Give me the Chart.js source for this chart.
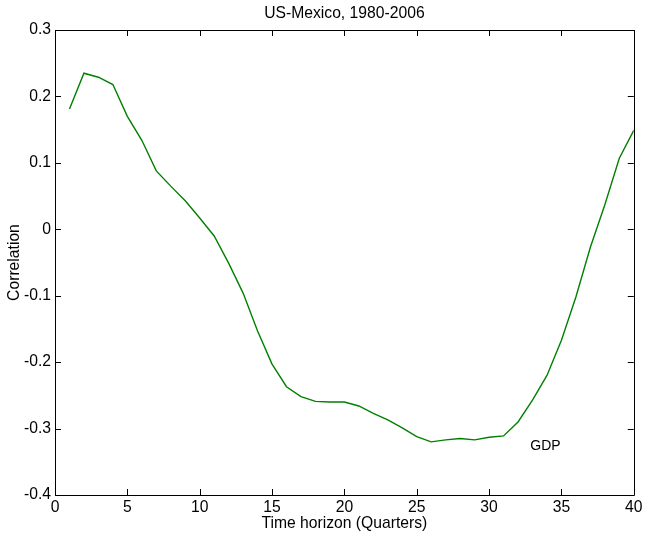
<!DOCTYPE html>
<html>
<head>
<meta charset="utf-8">
<script src="https://cdn.jsdelivr.net/npm/chart.js@4"></script>
<style>
  html, body { margin: 0; padding: 0; background: #fff; }
  #wrap { width: 646px; height: 535px; }
</style>
</head>
<body>
<div id="wrap"><canvas id="corrCanvas" width="646" height="535"></canvas></div>
<script>
const quarters = [1, 2, 3, 4, 5, 6, 7, 8, 9, 10, 11, 12, 13, 14, 15, 16, 17, 18, 19, 20,
                  21, 22, 23, 24, 25, 26, 27, 28, 29, 30, 31, 32, 33, 34, 35, 36, 37, 38, 39, 40];
const gdpCorr = [0.181, 0.235, 0.229, 0.218, 0.170, 0.134, 0.088, 0.065, 0.043, 0.017,
                 -0.010, -0.051, -0.096, -0.153, -0.203, -0.237, -0.252, -0.259, -0.260, -0.260,
                 -0.266, -0.277, -0.287, -0.299, -0.312, -0.320, -0.317, -0.315, -0.317, -0.313,
                 -0.311, -0.290, -0.257, -0.220, -0.167, -0.102, -0.027, 0.037, 0.107, 0.149];
const xTicks = [0, 5, 10, 15, 20, 25, 30, 35, 40];
const yTicks = [-0.4, -0.3, -0.2, -0.1, 0, 0.1, 0.2, 0.3];
const seriesLabel = 'GDP';
const labelPos = [33.9, -0.327];

const font = 'Liberation Sans, Arial, sans-serif';
const fs = 15.7;

// MATLAB-style box with inward ticks on all four sides, plus the series label
const boxPlugin = {
    id: 'matlabBox',
    afterDraw(chart) {
        const ctx = chart.ctx;
        const a = chart.chartArea;
        const xs = chart.scales.x, ys = chart.scales.y;
        const tl = 6;
        ctx.save();
        ctx.strokeStyle = '#000';
        ctx.lineWidth = 1;
        ctx.beginPath();
        ctx.rect(Math.round(a.left) + 0.5, Math.round(a.top) + 0.5,
                 Math.round(a.right - a.left), Math.round(a.bottom - a.top));
        xTicks.forEach(v => {
            const px = Math.round(xs.getPixelForValue(v)) + 0.5;
            ctx.moveTo(px, a.bottom); ctx.lineTo(px, a.bottom - tl);
            ctx.moveTo(px, a.top); ctx.lineTo(px, a.top + tl);
        });
        yTicks.forEach(v => {
            const py = Math.round(ys.getPixelForValue(v)) + 0.5;
            ctx.moveTo(a.left, py); ctx.lineTo(a.left + tl, py);
            ctx.moveTo(a.right, py); ctx.lineTo(a.right - tl, py);
        });
        ctx.stroke();

        ctx.fillStyle = '#000';
        ctx.font = '14px ' + font;
        ctx.textAlign = 'center';
        ctx.textBaseline = 'middle';
        ctx.fillText(seriesLabel, xs.getPixelForValue(labelPos[0]), ys.getPixelForValue(labelPos[1]));
        ctx.restore();
    }
};

const ctx = document.getElementById('corrCanvas').getContext('2d');
const corrChart = new Chart(ctx, {
    type: 'line',
    data: {
        datasets: [{
            label: seriesLabel,
            data: quarters.map((q, i) => ({ x: q, y: gdpCorr[i] })),
            borderColor: '#008000',
            borderWidth: 1.4,
            pointRadius: 0,
            tension: 0,
            fill: false
        }]
    },
    options: {
        responsive: false,
        animation: false,
        layout: { padding: { left: 0, right: 12, top: 0, bottom: 0 } },
        plugins: {
            legend: { display: false },
            tooltip: { enabled: false },
            title: {
                display: true,
                text: 'US-Mexico, 1980-2006',
                fullSize: false,
                color: '#000',
                font: { family: font, size: fs, weight: 'normal' },
                padding: { top: 4.5, bottom: 6.7 }
            }
        },
        scales: {
            x: {
                type: 'linear',
                min: 0,
                max: 40,
                afterBuildTicks: s => { s.ticks = xTicks.map(v => ({ value: v })); },
                afterFit: s => { s.height = 40; },
                grid: { display: false, drawTicks: false },
                border: { display: false },
                ticks: {
                    color: '#000',
                    padding: 3.5,
                    maxRotation: 0,
                    font: { family: font, size: fs }
                },
                title: {
                    display: true,
                    text: 'Time horizon (Quarters)',
                    color: '#000',
                    font: { family: font, size: fs },
                    padding: { top: 0, bottom: 1.5 }
                }
            },
            y: {
                type: 'linear',
                min: -0.4,
                max: 0.3,
                afterBuildTicks: s => { s.ticks = yTicks.map(v => ({ value: v })); },
                afterFit: s => { s.width = 55; },
                grid: { display: false, drawTicks: false },
                border: { display: false },
                ticks: {
                    color: '#000',
                    padding: 4,
                    font: { family: font, size: fs },
                    callback: v => String(Number(v.toFixed(1)))
                },
                title: {
                    display: true,
                    text: 'Correlation',
                    color: '#000',
                    font: { family: font, size: fs },
                    padding: { top: 5, bottom: 0 }
                }
            }
        }
    },
    plugins: [boxPlugin]
});
</script>
</body>
</html>
